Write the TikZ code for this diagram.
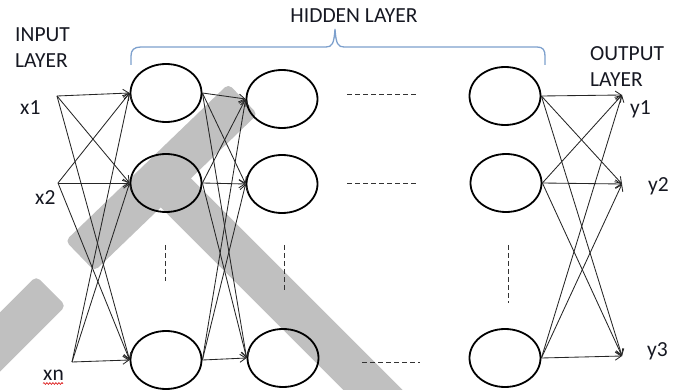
\documentclass[tikz,border=0pt]{standalone}
\usepackage{fontspec}
\setmainfont{Carlito}
\usetikzlibrary{shapes.geometric,arrows.meta,decorations.pathmorphing}
\definecolor{inkcol}{RGB}{22,24,34}
\definecolor{bracecol}{RGB}{125,160,205}
\definecolor{bandcol}{RGB}{192,192,192}
\tikzset{
  neuron/.style={ellipse, draw=black, line width=1.8pt, minimum width=71pt, minimum height=58pt, inner sep=0pt},
  link/.style={-{Straight Barb[length=6pt,width=8pt]}, line width=0.85pt, draw=black!85},
  lbl/.style={font=\fontsize{21.5}{26}\selectfont, text=inkcol, inner sep=0pt, align=left},
  gapdash/.style={line width=0.9pt, draw=black!80, dash pattern=on 5pt off 3pt},
  band/.style={fill=bandcol, rounded corners=5pt},
}
\begin{document}
\begin{tikzpicture}[x=1pt,y=-1pt]
\useasboundingbox (0,0) rectangle (683,390);

% grey diagonal bands in the background
\begin{scope}
\clip (0,0) rectangle (683,390);
\fill[band] (228.4,83.9) -- (257.6,114.1) -- (94.6,271.1) -- (65.4,240.9) -- cycle;
\fill[band] (175.8,163.2) -- (494.8,482.2) -- (465.2,511.8) -- (146.2,192.8) -- cycle;
\fill[band] (36.2,276.2) -- (65.8,305.8) -- (-84.2,455.8) -- (-113.8,426.2) -- cycle;
\end{scope}

% neurons of the hidden layer
\node[neuron] (c11) at (166,93) {};
\node[neuron] (c12) at (166,183) {};
\node[neuron] (c13) at (166,360) {};
\node[neuron] (c21) at (282,99) {};
\node[neuron] (c22) at (282,184) {};
\node[neuron] (c23) at (283,358) {};
\node[neuron] (c31) at (505,96) {};
\node[neuron] (c32) at (506,183) {};
\node[neuron] (c33) at (505,358) {};

% input and output points
\coordinate (in1) at (57,96);
\coordinate (in2) at (58,183);
\coordinate (in3) at (72,362);
\coordinate (out1) at (622,95);
\coordinate (out2) at (622,184);
\coordinate (out3) at (622,356);

% labels (base anchor of a two-line node sits on its last line)
\node[lbl, anchor=base west] (inlab) at (15,68) {INPUT\\LAYER};
\node[lbl, anchor=base west] (outlab) at (590,87) {OUTPUT\\LAYER};
\node[lbl, anchor=base] (hidlab) at (354,23) {HIDDEN LAYER};
\node[lbl, anchor=base west] (x1) at (20,115) {x1};
\node[lbl, anchor=base west] (x2) at (35,205) {x2};
\node[lbl, anchor=base west] (xn) at (43,380) {xn};
\node[lbl, anchor=base west] (y1) at (630,115) {y1};
\node[lbl, anchor=base west] (y2) at (648,192) {y2};
\node[lbl, anchor=base west] (y3) at (647,356) {y3};

% spelling squiggle under xn
\coordinate (sqa) at (43,383.5);
\coordinate (sqb) at (63,383.5);
\draw[red!85!black, line width=0.6pt, decorate, decoration={snake, amplitude=0.9pt, segment length=3pt}] (sqa) -- (sqb);

% brace over the hidden layer
\draw[bracecol, line width=1.3pt]
  (131,65) -- (131,56) .. controls (131,50) and (134,47) .. (141,47)
  -- (326,47) .. controls (332,47) and (334,44) .. (335,29)
  .. controls (336,44) and (338,47) .. (344,47)
  -- (537,47) .. controls (543,47) and (545,50) .. (545,56) -- (545,65);

% inputs to the first hidden column
\foreach \i in {in1,in2,in3}
  \foreach \j in {c11,c12,c13}
    \draw[link] (\i) -- (\j.west);

% first to second hidden column
\foreach \i in {c11,c12,c13}
  \foreach \j in {c21,c22,c23}
    \draw[link] (\i.east) -- (\j.west);

% last hidden column to outputs
\foreach \i in {c31,c32,c33}
  \foreach \j in {out1,out2,out3}
    \draw[link] (\i.east) -- (\j);

% elided neurons and columns
\coordinate (h1a) at (347,94);  \coordinate (h1b) at (417,94);
\coordinate (h2a) at (347,183); \coordinate (h2b) at (417,183);
\coordinate (h3a) at (362,362); \coordinate (h3b) at (420,362);
\draw[gapdash] (h1a) -- (h1b);
\draw[gapdash] (h2a) -- (h2b);
\draw[gapdash] (h3a) -- (h3b);
\coordinate (v1a) at (165,245); \coordinate (v1b) at (165,281);
\coordinate (v2a) at (284,245); \coordinate (v2b) at (284,290);
\coordinate (v3a) at (508,245); \coordinate (v3b) at (508,303);
\draw[gapdash] (v1a) -- (v1b);
\draw[gapdash] (v2a) -- (v2b);
\draw[gapdash] (v3a) -- (v3b);
\end{tikzpicture}
\end{document}
